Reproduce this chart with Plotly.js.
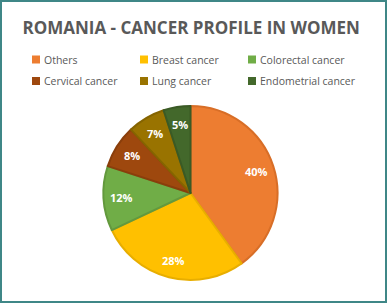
<!DOCTYPE html>
<html><head><meta charset="utf-8">
<script src="https://cdn.plot.ly/plotly-3.0.1.min.js"></script>
<style>html,body{margin:0;padding:0;background:#fff;}#chart{width:387px;height:303px;}</style>
</head><body><div id="chart"></div>
<script>
const categories = ["Others","Breast cancer","Colorectal cancer","Cervical cancer","Lung cancer","Endometrial cancer"];
const values = [40, 28, 12, 8, 7, 5];
const colors = ["#ED7D31","#FFC000","#70AD47","#9E480E","#997300","#43682B"];
const lineColors = ["#D86E27","#E8AE00","#63993D","#8A3E0B","#856400","#3A5A25"];

const W = 387, H = 303;
const cx = 190.5, cy = 193, R = 87;
const labelRadius = 0.8;

const trace = {
  type: 'pie',
  labels: categories,
  values: values,
  sort: false,
  direction: 'clockwise',
  rotation: 0,
  marker: {colors: colors, line: {color: lineColors, width: 2}},
  textinfo: 'none',
  hoverinfo: 'label+percent',
  showlegend: false,
  domain: {x: [(cx - R) / W, (cx + R) / W], y: [1 - (cy + R) / H, 1 - (cy - R) / H]}
};

const shapes = [{type:'rect', xref:'paper', yref:'paper', x0:0, x1:1, y0:0, y1:1,
  line:{color:'#3F8787', width:4}, fillcolor:'rgba(0,0,0,0)'}];
const annotations = [];

// percentage labels placed from the data (cumulative share -> angle)
const total = values.reduce((a, b) => a + b, 0);
let cum = 0;
values.forEach((v, i) => {
  const mid = (cum + v / 2) / total * 2 * Math.PI;
  cum += v;
  const px = cx + labelRadius * R * Math.sin(mid);
  const py = cy - labelRadius * R * Math.cos(mid);
  annotations.push({xref:'paper', yref:'paper', x: px / W, y: 1 - py / H,
    xanchor:'center', yanchor:'middle', showarrow:false,
    text: Math.round(v / total * 100) + '%',
    font:{family:'Open Sans', size: 11, color:'#ffffff', weight:'bold'}});
});

const colX = [32, 140, 248];
const rowY = [59.5, 81];
categories.forEach((c, i) => {
  const px = colX[i % 3], py = rowY[Math.floor(i / 3)];
  shapes.push({type:'rect', xref:'paper', yref:'paper',
    x0: px / W, x1: (px + 8) / W, y0: 1 - (py + 4) / H, y1: 1 - (py - 4) / H,
    fillcolor: colors[i], line: {width: 0}});
  annotations.push({xref:'paper', yref:'paper', x: (px + 10) / W, y: 1 - py / H,
    xanchor:'left', yanchor:'middle', showarrow:false, text: c,
    font:{family:'Open Sans', size: 10.5, color:'#595959'}});
});

const layout = {
  width: W, height: H,
  margin: {l:0, r:0, t:0, b:0},
  paper_bgcolor: '#ffffff',
  title: {text: 'ROMANIA - CANCER PROFILE IN WOMEN', x: 0.494, xanchor: 'center',
    y: 1 - 28 / H, yanchor: 'middle', yref: 'container',
    font: {family: 'Open Sans', size: 17, color: '#595959', weight: 'bold'}},
  shapes: shapes,
  annotations: annotations,
  showlegend: false
};
Plotly.newPlot('chart', [trace], layout, {displayModeBar: false, staticPlot: true});
</script></body></html>
